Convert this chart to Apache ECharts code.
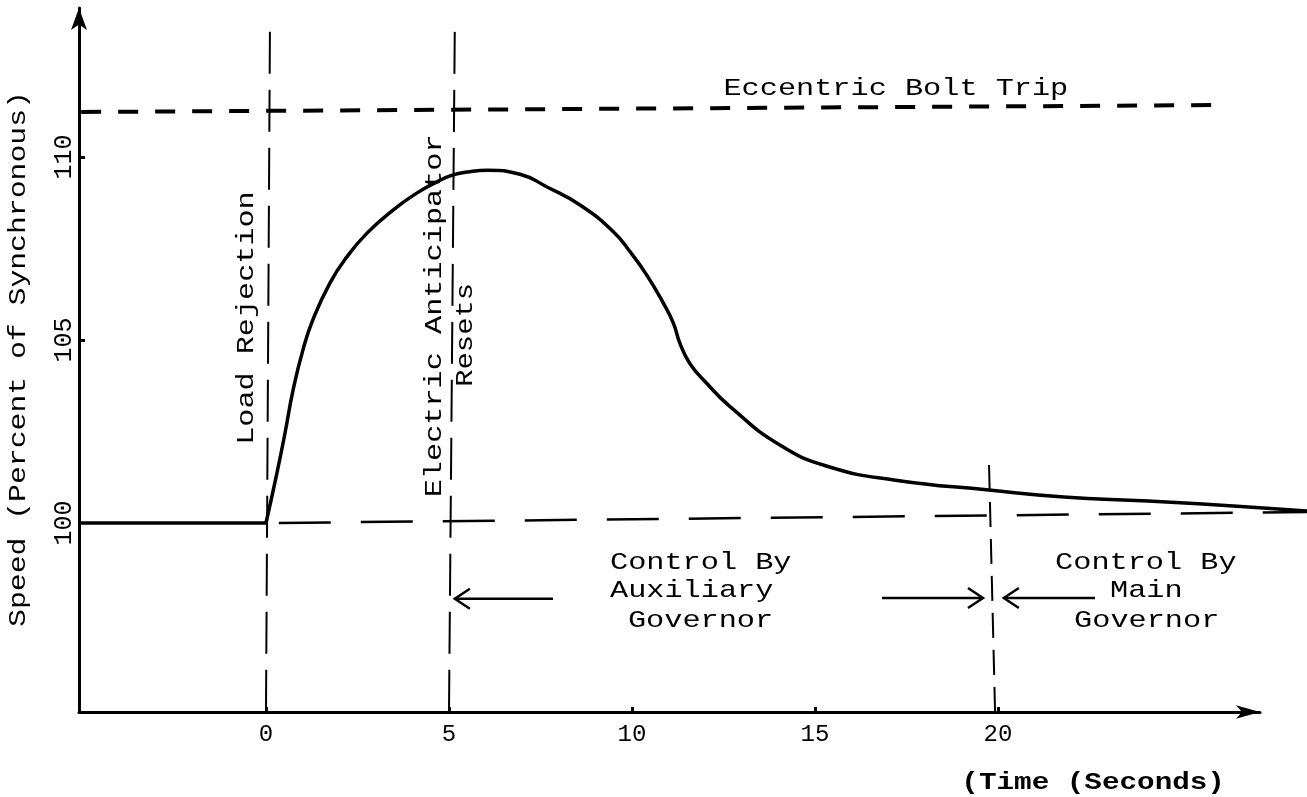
<!DOCTYPE html>
<html><head><meta charset="utf-8">
<script src="https://cdn.jsdelivr.net/npm/echarts@6/dist/echarts.min.js"></script>
<style>html,body{margin:0;padding:0;background:#fff}#c{width:1307px;height:797px}</style>
</head><body><div id="c"></div>
<script>
// ---- data (time in seconds, speed in percent of synchronous) ----
const steadyTime  = [-5.1, 0];
const steadySpeed = [100, 100];
const transientTime  = [0, 0.30, 0.52, 0.74, 1.01, 1.28, 1.75, 2.21, 2.76, 3.47, 4.13, 4.67, 5.11, 5.5, 6.05, 6.94, 7.68, 8.58, 9.49, 9.95, 10.40, 10.86, 11.13, 11.31, 11.58, 12.04, 12.68, 14.04, 15.4, 17.2, 19.75, 21.8, 24.1, 26.85, 28.45];
const transientSpeed = [100, 101.37, 102.46, 103.63, 104.73, 105.55, 106.56, 107.27, 107.92, 108.55, 109.02, 109.32, 109.51, 109.59, 109.64, 109.53, 109.18, 108.69, 107.96, 107.41, 106.78, 106.00, 105.46, 104.91, 104.36, 103.82, 103.18, 102.13, 101.53, 101.17, 100.90, 100.71, 100.60, 100.44, 100.33];
const tripTime  = [-5.05, 26.2];
const tripSpeed = [111.23, 111.42];
const ratedTime  = [0.35, 28.5];
const ratedSpeed = [100, 100.3];
const rejectTime  = [0, 0.11];
const rejectSpeed = [94.84, 113.83];
const resetTime  = [5.0, 5.16];
const resetSpeed = [94.84, 113.69];
const handoverTime  = [19.92, 19.75];
const handoverSpeed = [94.84, 101.8];
const xTicks = [0, 5, 10, 15, 20];
const yTicks = [100, 105, 110];
const yTickMarks = [105, 110];

const zip = (a, b) => a.map((v, i) => [v, b[i]]);
const FONT = 'Liberation Mono';
const INK = '#000';
const X_MIN = -5.109, Y_MIN = 94.836, Y_MAX = 114.071;

const chart = echarts.init(document.getElementById('c'), null, {renderer: 'canvas'});

function lineSeries(name, t, v, style) {
  return {
    name, type: 'line', data: zip(t, v), symbol: 'none', clip: false, silent: true,
    xAxisIndex: 0, yAxisIndex: 0,
    lineStyle: Object.assign({color: INK, width: 2}, style), z: 3
  };
}

const option = {
  animation: false,
  backgroundColor: '#fff',
  grid: [
    {left: 79, right: 0, top: 8, bottom: 85, containLabel: false},
    {left: 79, right: 47, top: 8, bottom: 85, containLabel: false}
  ],
  xAxis: [
    {type: 'value', gridIndex: 0, min: X_MIN, max: 28.443, show: false},
    {
      type: 'value', gridIndex: 1, min: X_MIN, max: 27.158,
      axisLine: {show: true, onZero: false, lineStyle: {color: INK, width: 3}, symbol: ['none', 'arrow'], symbolSize: [10, 24]},
      axisTick: {show: true, inside: true, length: 5, lineStyle: {color: INK, width: 3}, customValues: xTicks},
      axisLabel: {customValues: xTicks, fontFamily: FONT, fontSize: 24, color: INK, margin: 11},
      splitLine: {show: false}
    }
  ],
  yAxis: [
    {type: 'value', gridIndex: 0, min: Y_MIN, max: Y_MAX, show: false},
    {
      type: 'value', gridIndex: 1, min: Y_MIN, max: Y_MAX,
      axisLine: {show: true, onZero: false, lineStyle: {color: INK, width: 3}, symbol: ['none', 'arrow'], symbolSize: [12, 22]},
      axisTick: {show: true, inside: true, length: 6, lineStyle: {color: INK, width: 3}, customValues: yTickMarks},
      axisLabel: {customValues: yTicks, rotate: 90, fontFamily: FONT, fontSize: 25, color: INK, margin: 2},
      splitLine: {show: false}
    }
  ],
  series: [
    lineSeries('Steady', steadyTime, steadySpeed, {width: 3.5}),
    Object.assign(lineSeries('Speed', transientTime, transientSpeed, {width: 3.5}), {smooth: 0.5}),
    lineSeries('Eccentric Bolt Trip', tripTime, tripSpeed, {width: 4, type: [20, 17]}),
    lineSeries('Synchronous', ratedTime, ratedSpeed, {width: 2.5, type: [52, 30]}),
    lineSeries('Load Rejection', rejectTime, rejectSpeed, {width: 2, type: [42, 16]}),
    lineSeries('Reset', resetTime, resetSpeed, {width: 2, type: [42, 16]}),
    lineSeries('Handover', handoverTime, handoverSpeed, {width: 2, type: [25, 12]})
  ]
};
chart.setOption(option);

const px = (t, v) => chart.convertToPixel({gridIndex: 0}, [t, v]);

function txt(text, t, v, o) {
  o = o || {};
  const p = px(t, v);
  const align = o.align || 'center';
  return {
    type: 'text', x: p[0], y: p[1], rotation: o.rot || 0, scaleX: o.sx || 1.26, silent: true, z: 10,
    style: {
      text, fontFamily: FONT, fontSize: o.fs || 24, fontWeight: o.fw || 'normal', fill: INK,
      align: align, textAlign: align, verticalAlign: 'middle', textVerticalAlign: 'middle'
    }
  };
}

function arrow(t0, t1, v) {
  const a = px(t0, v), b = px(t1, v);
  const dir = Math.sign(b[0] - a[0]);
  const hl = 15, hh = 10;
  return [
    {type: 'line', silent: true, shape: {x1: a[0], y1: a[1], x2: b[0], y2: b[1]}, style: {stroke: INK, lineWidth: 2.5}},
    {type: 'polyline', silent: true, shape: {points: [[b[0] - dir * hl, b[1] - hh], [b[0], b[1]], [b[0] - dir * hl, b[1] + hh]]},
      style: {stroke: INK, lineWidth: 2.5, fill: null}}
  ];
}

const R = Math.PI / 2;
const graphics = [
  txt('Eccentric Bolt Trip', 17.21, 111.86),
  txt('Load Rejection', -0.52, 105.6, {rot: R, sx: 1.257}),
  txt('Electric Anticipator', 4.62, 105.66, {rot: R, sx: 1.26}),
  txt('Resets', 5.46, 105.14, {rot: R, sx: 1.2}),
  txt('Speed (Percent of Synchronous)', -6.75, 104.48, {rot: R, sx: 1.24}),
  txt('(Time (Seconds)', 22.6, 92.9, {fw: 'bold', sx: 1.22}),
  txt('Control By', 9.40, 98.93, {align: 'left'}),
  txt('Auxiliary', 9.40, 98.14, {align: 'left'}),
  txt('Governor', 9.89, 97.32, {align: 'left'}),
  txt('Control By', 21.56, 98.93, {align: 'left'}),
  txt('Main', 23.06, 98.14, {align: 'left'}),
  txt('Governor', 22.08, 97.32, {align: 'left'})
].concat(arrow(7.84, 5.16, 97.93), arrow(16.83, 19.59, 97.95), arrow(22.65, 20.16, 97.95));

chart.setOption({graphic: graphics});
</script>
</body></html>
